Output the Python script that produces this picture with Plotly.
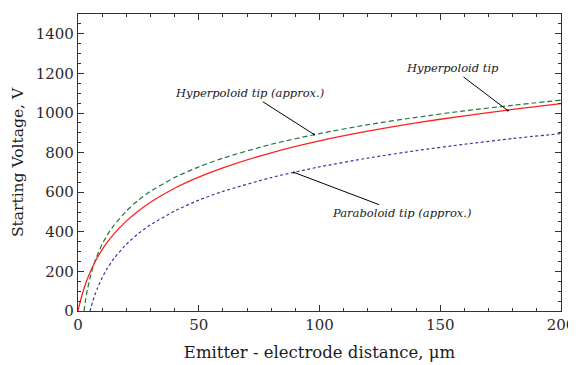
import plotly.graph_objects as go

# Hyperboloid tip (solid red)
red_x = [0, 0.5, 1, 2, 3, 4, 5, 6, 8, 10, 12, 15, 20, 25, 30, 40, 50, 60, 80, 100, 120, 140, 160, 180, 200]
red_y = [0, 27, 51, 95, 133, 166, 195, 222, 269, 310, 345, 391, 454, 505, 549, 620, 676, 723, 799, 859, 908, 950, 986, 1018, 1047]

# Hyperboloid tip approx (green dashed)
green_x = [2.5, 2.75, 3, 3.5, 4, 5, 6, 7.5, 10, 12.5, 15, 20, 25, 30, 40, 50, 60, 80, 100, 120, 140, 160, 180, 200]
green_y = [0, 23, 44, 82, 114, 168, 213, 267, 337, 391, 435, 505, 560, 604, 674, 728, 772, 842, 896, 941, 978, 1011, 1039, 1065]

# Paraboloid tip approx (blue dotted)
blue_x = [5, 5.5, 6, 7, 8, 10, 12, 15, 20, 25, 30, 40, 50, 60, 80, 100, 120, 140, 160, 180, 200]
blue_y = [0, 23, 44, 82, 114, 168, 213, 267, 337, 391, 435, 505, 560, 604, 674, 728, 772, 810, 842, 871, 896]

# annotation labels, anchor points and label positions (data units)
ann_text = ["Hyperpoloid tip (approx.)", "Hyperpoloid tip", "Paraboloid tip (approx.)"]
ann_x = [97.7, 178, 89.4]
ann_y = [892, 1012, 700]
lab_x = [71, 155, 134]
lab_y = [1100, 1225, 494]

FONT = "DejaVu Serif"

fig = go.Figure()
fig.add_trace(go.Scatter(x=green_x, y=green_y, mode="lines",
                         line=dict(color="#1f7a3c", width=1.2, dash="5px,3px", shape="spline", smoothing=0.6)))
fig.add_trace(go.Scatter(x=blue_x, y=blue_y, mode="lines",
                         line=dict(color="#3a3aa8", width=1.2, dash="3px,2.5px", shape="spline", smoothing=0.6)))
fig.add_trace(go.Scatter(x=red_x, y=red_y, mode="lines",
                         line=dict(color="#ff2020", width=1.3, shape="spline", smoothing=0.6)))

for t, xx, yy, lx, ly in zip(ann_text, ann_x, ann_y, lab_x, lab_y):
    fig.add_annotation(x=xx, y=yy, text="<i>" + t + "</i>", showarrow=True,
                       axref="x", ayref="y", ax=lx, ay=ly,
                       arrowhead=6, arrowsize=0.5, arrowwidth=1,
                       arrowcolor="black", font=dict(family=FONT, size=11.5, color="#1a1a1a"))

axis_common = dict(showline=True, linecolor="#333", linewidth=1.2, mirror="ticks",
                   ticks="inside", ticklen=6, tickcolor="#333", showgrid=False, zeroline=False,
                   automargin=False,
                   tickfont=dict(family=FONT, size=15, color="#2a2a2a"))

fig.update_xaxes(range=[0, 200], dtick=50, title=dict(text="Emitter - electrode distance, μm",
                 font=dict(family=FONT, size=16.5, color="#1a1a1a"), standoff=13),
                 minor=dict(dtick=10, ticks="inside", ticklen=3, tickcolor="#333"), **axis_common)
fig.update_yaxes(range=[0, 1500], dtick=200, title=dict(text="Starting Voltage, V",
                 font=dict(family=FONT, size=15.5, color="#1a1a1a"), standoff=8),
                 minor=dict(dtick=50, ticks="inside", ticklen=3, tickcolor="#333"), **axis_common)

# page has an 8px body margin, so the figure is sized to fit the 576x365 window
fig.update_layout(width=568, height=357, showlegend=False,
                  plot_bgcolor="white", paper_bgcolor="white",
                  margin=dict(l=70, r=15, t=6, b=54))

fig.write_html("out.html")
